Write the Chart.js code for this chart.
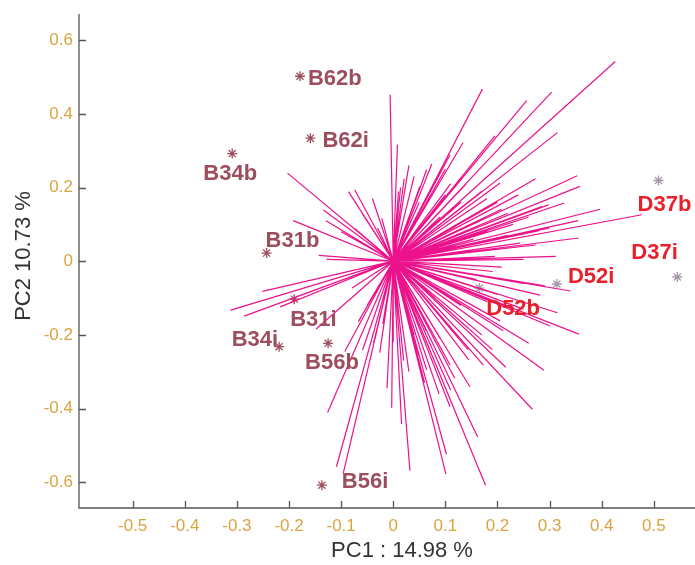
<!DOCTYPE html>
<html>
<head>
<meta charset="utf-8">
<script src="https://cdn.jsdelivr.net/npm/chart.js@4"></script>
<style>
  body { margin: 0; background: #fff; }
  #wrap { width: 695px; height: 565px; position: relative; }
</style>
</head>
<body>
<div id="wrap"><canvas id="biplot"></canvas></div>
<script>
// sample scores (PC1, PC2)
const bNames = ['B62b', 'B62i', 'B34b', 'B31b', 'B31i', 'B34i', 'B56b', 'B56i'];
const bPC1 = [-0.179, -0.159, -0.309, -0.243, -0.190, -0.219, -0.125, -0.137];
const bPC2 = [0.502, 0.334, 0.292, 0.022, -0.103, -0.232, -0.223, -0.608];

const dNames = ['D37b', 'D37i', 'D52i', 'D52b'];
const dPC1 = [0.509, 0.545, 0.314, 0.165];
const dPC2 = [0.219, -0.043, -0.062, -0.073];

// variable loadings, one vector from the origin each
const loadPC1 = [
  -0.203, -0.134, -0.129, -0.192, -0.143, -0.128, -0.086, -0.074, -0.022, -0.074,
  -0.006, 0.008, 0.021, 0.014, 0.010, 0.074, 0.134, 0.171, 0.109, 0.064,
  0.051, 0.195, 0.256, 0.304, 0.426, 0.315, 0.273, 0.353, 0.358, 0.205,
  0.328, 0.298, 0.285, 0.208, 0.397, 0.355, 0.477, 0.280, 0.356, 0.273,
  0.243, 0.312, 0.250, 0.154, 0.195, 0.208, 0.191, 0.120, 0.160, 0.230,
  0.100, 0.140, 0.180, 0.060, 0.030,
  0.090, 0.130, 0.170, 0.110, 0.070, 0.050, 0.200, 0.240, 0.220, 0.260,
  0.180, 0.150, 0.220, 0.300, 0.120, 0.040, 0.030, 0.100,
  -0.040, -0.030, -0.060, -0.100, -0.050,
  0.340, 0.282, 0.291, 0.315, 0.356, 0.301, 0.260, 0.289, 0.216, 0.267,
  0.173, 0.205, 0.211, 0.147, 0.162, 0.177, 0.101, 0.102, 0.032, 0.016,
  -0.003, -0.012, 0.030, 0.088, 0.049, 0.145, 0.123, -0.026, 0.063, 0.109,
  0.118, 0.144, 0.144, 0.064, 0.109, 0.230, 0.180, 0.250,
  0.040, 0.020, 0.070, 0.090, 0.120, 0.100, 0.170, 0.190, 0.130, 0.080,
  0.000, -0.020, -0.050, 0.060, 0.110, 0.200, 0.250, 0.160,
  -0.251, -0.312, -0.286, -0.217, -0.148, -0.126, -0.109, -0.096, -0.079, -0.067,
  -0.059, -0.093, -0.038
];
const loadPC2 = [
  0.239, 0.139, 0.110, 0.110, 0.016, 0.005, 0.189, 0.194, 0.116, 0.089,
  0.452, 0.316, 0.224, 0.200, 0.189, 0.264, 0.322, 0.467, 0.289, 0.248,
  0.203, 0.340, 0.436, 0.459, 0.542, 0.349, 0.224, 0.232, 0.203, 0.212,
  0.158, 0.153, 0.148, 0.141, 0.141, 0.110, 0.126, 0.083, 0.063, 0.044,
  0.049, 0.013, 0.005, 0.060, 0.013, -0.016, -0.028, 0.095, 0.120, 0.100,
  0.180, 0.210, 0.170, 0.150, 0.120,
  0.120, 0.160, 0.190, 0.210, 0.190, 0.160, 0.160, 0.180, 0.130, 0.120,
  0.080, 0.030, 0.070, 0.090, 0.040, 0.230, 0.260, 0.250,
  0.170, 0.090, 0.130, 0.080, 0.040,
  -0.081, -0.092, -0.067, -0.140, -0.198, -0.176, -0.223, -0.296, -0.288, -0.402,
  -0.282, -0.162, -0.189, -0.341, -0.477, -0.608, -0.578, -0.524, -0.569, -0.442,
  -0.398, -0.345, -0.300, -0.361, -0.255, -0.268, -0.422, -0.248, -0.189, -0.282,
  -0.318, -0.241, -0.182, -0.295, -0.395, -0.130, -0.110, -0.060,
  -0.200, -0.270, -0.240, -0.210, -0.200, -0.150, -0.200, -0.240, -0.120, -0.100,
  -0.220, -0.170, -0.120, -0.330, -0.350, -0.090, -0.130, -0.050,
  -0.082, -0.133, -0.149, -0.124, -0.184, -0.411, -0.558, -0.576, -0.073, -0.164,
  -0.241, -0.245, -0.223
];

const xTickValues = [-0.5, -0.4, -0.3, -0.2, -0.1, 0, 0.1, 0.2, 0.3, 0.4, 0.5];
const yTickValues = [-0.6, -0.4, -0.2, 0, 0.2, 0.4, 0.6];

const xTitle = 'PC1 : 14.98 %';
const yTitle = 'PC2 10.73 %';

const FONT = "'Liberation Sans', Arial, Helvetica, sans-serif";
const tickColor = '#D9A441';
const axisColor = '#555555';
const bColor = '#9C4E5E';
const dColor = '#E8202A';
const dMarkColor = '#A596AA';
const lineColor = '#EC128C';

// where each sample name sits relative to its marker (px)
const labelPlacement = {
  B62b: { dx: 8, dy: 3, align: 'left' },
  B62i: { dx: 12, dy: 3, align: 'left' },
  B34b: { dx: -2, dy: 20, align: 'center' },
  B31b: { dx: -1, dy: -12, align: 'left' },
  B31i: { dx: -4, dy: 21, align: 'left' },
  B34i: { dx: -1, dy: -7, align: 'right' },
  B56b: { dx: -23, dy: 20, align: 'left' },
  B56i: { dx: 20, dy: -3, align: 'left' },
  D37b: { dx: -21, dy: 24, align: 'left' },
  D37i: { dx: -46, dy: -24, align: 'left' },
  D52i: { dx: 11, dy: -7, align: 'left' },
  D52b: { dx: 7, dy: 21, align: 'left' }
};

// origin -> tip segments, split by null gaps
const loadSegments = [];
loadPC1.forEach((x, i) => {
  loadSegments.push({ x: 0, y: 0 }, { x: x, y: loadPC2[i] }, { x: x, y: null });
});

const bPoints = bPC1.map((x, i) => ({ x: x, y: bPC2[i] }));
const dPoints = dPC1.map((x, i) => ({ x: x, y: dPC2[i] }));

const fmt = v => (Math.abs(v) < 1e-9 ? '0' : v.toFixed(1));

const biplotDecor = {
  id: 'biplotDecor',
  afterDatasetsDraw(chart) {
    const ctx = chart.ctx;
    const xs = chart.scales.x, ys = chart.scales.y;
    ctx.save();
    ctx.font = 'bold 22px ' + FONT;
    ctx.textBaseline = 'middle';
    const drawNames = (names, px, py, color) => {
      names.forEach((n, i) => {
        const p = labelPlacement[n];
        ctx.fillStyle = color;
        ctx.textAlign = p.align;
        ctx.fillText(n, xs.getPixelForValue(px[i]) + p.dx, ys.getPixelForValue(py[i]) + p.dy);
      });
    };
    drawNames(bNames, bPC1, bPC2, bColor);
    drawNames(dNames, dPC1, dPC2, dColor);
    ctx.restore();
  },
  afterDraw(chart) {
    const ctx = chart.ctx;
    const a = chart.chartArea;
    const xs = chart.scales.x, ys = chart.scales.y;
    const tl = 7;
    ctx.save();
    ctx.strokeStyle = axisColor;
    ctx.lineWidth = 1.3;
    ctx.beginPath();
    ctx.moveTo(a.left, a.top);
    ctx.lineTo(a.left, a.bottom);
    ctx.lineTo(chart.width, a.bottom);
    xTickValues.forEach(v => {
      const px = Math.round(xs.getPixelForValue(v)) + 0.5;
      ctx.moveTo(px, a.bottom);
      ctx.lineTo(px, a.bottom - tl);
    });
    yTickValues.forEach(v => {
      const py = Math.round(ys.getPixelForValue(v)) + 0.5;
      ctx.moveTo(a.left, py);
      ctx.lineTo(a.left + tl, py);
    });
    ctx.stroke();

    ctx.fillStyle = '#333333';
    ctx.font = '22px ' + FONT;
    ctx.textAlign = 'center';
    ctx.textBaseline = 'middle';
    ctx.fillText(xTitle, 402, 551);
    ctx.translate(24, 256);
    ctx.rotate(-Math.PI / 2);
    ctx.fillText(yTitle, 0, 0);
    ctx.restore();
  }
};

new Chart(document.getElementById('biplot'), {
  type: 'scatter',
  data: {
    datasets: [
      {
        label: 'loadings',
        data: loadSegments,
        showLine: true,
        spanGaps: false,
        borderColor: lineColor,
        borderWidth: 1.2,
        pointRadius: 0,
        pointHoverRadius: 0
      },
      {
        label: 'B',
        data: bPoints,
        pointStyle: 'star',
        pointRadius: 5,
        borderColor: bColor,
        backgroundColor: bColor,
        borderWidth: 1.3
      },
      {
        label: 'D',
        data: dPoints,
        pointStyle: 'star',
        pointRadius: 5,
        borderColor: dMarkColor,
        backgroundColor: dMarkColor,
        borderWidth: 1.3
      }
    ]
  },
  options: {
    responsive: true,
    maintainAspectRatio: false,
    animation: false,
    layout: { autoPadding: false, padding: { top: 14, right: 0, left: 0, bottom: 0 } },
    plugins: {
      legend: { display: false },
      tooltip: { enabled: false }
    },
    scales: {
      x: {
        type: 'linear',
        min: -0.603,
        max: 0.579,
        afterBuildTicks: s => { s.ticks = xTickValues.map(v => ({ value: v })); },
        afterFit: s => { s.height = 57; s.paddingLeft = 0; s.paddingRight = 0; },
        grid: { display: false, drawTicks: false },
        border: { display: false },
        ticks: {
          color: tickColor,
          font: { family: FONT, size: 17 },
          padding: 8,
          maxRotation: 0,
          callback: v => fmt(v)
        }
      },
      y: {
        type: 'linear',
        min: -0.67,
        max: 0.671,
        afterBuildTicks: s => { s.ticks = yTickValues.map(v => ({ value: v })); },
        afterFit: s => { s.width = 79; s.paddingTop = 0; s.paddingBottom = 0; },
        grid: { display: false, drawTicks: false },
        border: { display: false },
        ticks: {
          color: tickColor,
          font: { family: FONT, size: 17 },
          padding: 6,
          callback: v => fmt(v)
        }
      }
    }
  },
  plugins: [biplotDecor]
});
</script>
</body>
</html>
